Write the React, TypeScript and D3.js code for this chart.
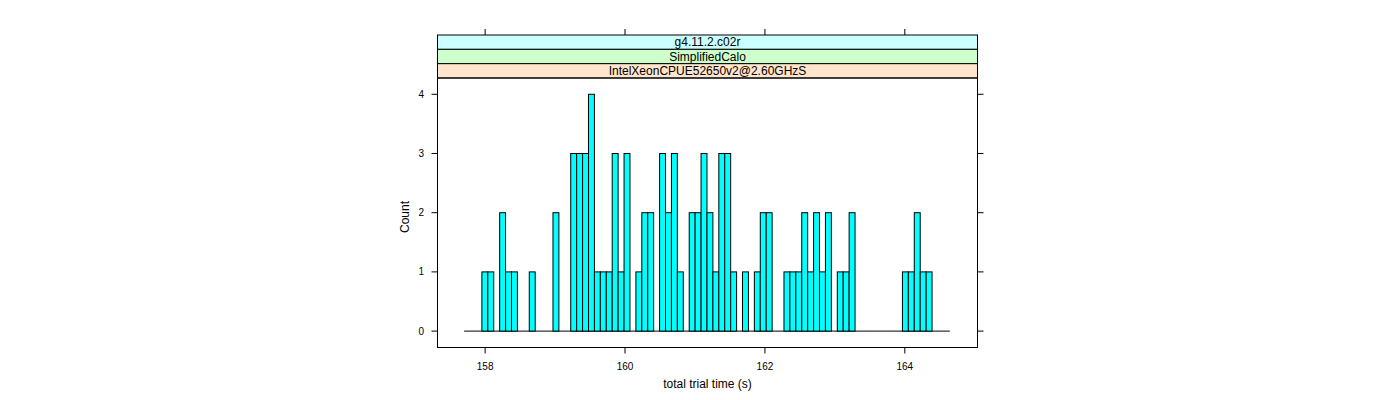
import React from "react";
import * as d3 from "d3";

// ---- data ----
const binStart = 157.6996;
const binWidth = 0.08468;
const counts = [
  0, 0, 0, 1, 1, 0, 2, 1, 1, 0,
  0, 1, 0, 0, 0, 2, 0, 0, 3, 3,
  3, 4, 1, 1, 1, 3, 1, 3, 0, 1,
  2, 2, 0, 3, 2, 3, 1, 0, 2, 2,
  3, 2, 1, 3, 3, 1, 0, 1, 0, 1,
  2, 2, 0, 0, 1, 1, 1, 2, 1, 2,
  1, 2, 0, 1, 1, 2, 0, 0, 0, 0,
  0, 0, 0, 0, 1, 1, 2, 1, 1, 0,
  0, 0,
];
const xTicks = [158, 160, 162, 164];
const yTicks = [0, 1, 2, 3, 4];
const stripLabels = ["g4.11.2.c02r", "SimplifiedCalo", "IntelXeonCPUE52650v2@2.60GHzS"];
const stripColors = ["#ccffff", "#ccffcc", "#ffe5cc"];
const xDomain = [157.319, 165.039];
const yDomain = [-0.277, 4.275];
const xLabel = "total trial time (s)";
const yLabel = "Count";

export default function App() {
  const left = 437.5;
  const right = 977.5;
  const top = 78;
  const bottom = 347.5;
  const stripTop = 35;
  const stripH = (top - stripTop) / stripLabels.length;
  const x = d3.scaleLinear().domain(xDomain).range([left, right]);
  const y = d3.scaleLinear().domain(yDomain).range([bottom, top]);
  const font = "'Liberation Sans', Arial, Helvetica, sans-serif";
  const bins = counts.map((c, i) => ({ x0: binStart + i * binWidth, x1: binStart + (i + 1) * binWidth, c }));
  return (
    <svg
      width={1400}
      height={400}
      style={{ position: "absolute", left: 0, top: 0, background: "#fff" }}
      fontFamily={font}
    >
      {/* strips */}
      {stripLabels.map((s, i) => (
        <g key={s}>
          <rect
            x={left}
            y={stripTop + i * stripH}
            width={right - left}
            height={stripH}
            fill={stripColors[i]}
            stroke="#000"
            strokeWidth={1}
          />
          <text
            x={(left + right) / 2}
            y={stripTop + i * stripH + stripH / 2 + 4.3}
            textAnchor="middle"
            fontSize={12}
            fill="#000"
          >
            {s}
          </text>
        </g>
      ))}
      {/* baseline of histogram (zero-height bins) */}
      <line
        x1={x(bins[0].x0)}
        x2={x(bins[bins.length - 1].x1)}
        y1={y(0)}
        y2={y(0)}
        stroke="#000"
        strokeWidth={1}
      />
      {/* bars */}
      {bins.filter((b) => b.c > 0).map((b, i) => (
        <rect
          key={i}
          x={x(b.x0)}
          y={y(b.c)}
          width={x(b.x1) - x(b.x0)}
          height={y(0) - y(b.c)}
          fill="#00ffff"
          stroke="#000"
          strokeWidth={1}
        />
      ))}
      {/* panel border */}
      <rect x={left} y={top} width={right - left} height={bottom - top} fill="none" stroke="#000" strokeWidth={1} />
      {/* x ticks bottom & top */}
      {xTicks.map((t) => (
        <g key={t}>
          <line x1={x(t)} x2={x(t)} y1={bottom} y2={bottom + 6} stroke="#000" />
          <line x1={x(t)} x2={x(t)} y1={stripTop} y2={stripTop - 6} stroke="#000" />
          <text x={x(t)} y={370} textAnchor="middle" fontSize={10} fill="#000">
            {t}
          </text>
        </g>
      ))}
      {/* y ticks left & right */}
      {yTicks.map((t) => (
        <g key={t}>
          <line x1={left} x2={left - 6} y1={y(t)} y2={y(t)} stroke="#000" />
          <line x1={right} x2={right + 6} y1={y(t)} y2={y(t)} stroke="#000" />
          <text x={424} y={y(t) + 3.6} textAnchor="end" fontSize={10} fill="#000">
            {t}
          </text>
        </g>
      ))}
      <text x={(left + right) / 2} y={388} textAnchor="middle" fontSize={12} fill="#000">
        {xLabel}
      </text>
      <text
        transform={`translate(408.5, ${217}) rotate(-90)`}
        textAnchor="middle"
        fontSize={12}
        fill="#000"
      >
        {yLabel}
      </text>
    </svg>
  );
}
